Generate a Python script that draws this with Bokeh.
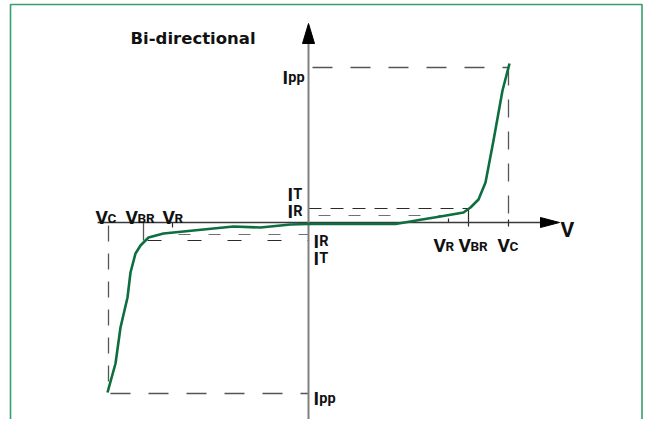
from bokeh.plotting import figure
from bokeh.models import Range1d
from bokeh.core.properties import value
from bokeh.embed import file_html
from bokeh.resources import INLINE

# ---- characteristic levels (schematic units) ----
V_R_POS, V_BR_POS, V_C_POS = 140, 160, 200
V_R_NEG, V_BR_NEG, V_C_NEG = -136, -165, -200
I_PP_POS, I_T_POS, I_R_POS = 155, 14, 7
I_PP_NEG, I_T_NEG, I_R_NEG = -171, -18, -12

# ---- I-V curve of the bi-directional device ----
v_curve = [-201, -193, -188, -181, -178, -173, -168, -160, -145, -125, -75, -48, -18,
           0, 87, 105, 112, 132, 155, 162, 170, 177, 185, 194, 201]
i_curve = [-170, -141, -105, -75, -50, -31, -23, -15, -11, -9, -4, -5, -2,
           -1.5, -1.5, 1.5, 2.7, 6, 10, 15, 23, 40, 82, 132, 159]

# ---- labels ----
title_text = "Bi-directional"
v_labels_neg = [("V", "C"), ("V", "BR"), ("V", "R")]
v_labels_pos = [("V", "R"), ("V", "BR"), ("V", "C")]
i_labels_pos = [("I", "T"), ("I", "R"), ("I", "pp")]
i_labels_neg = [("I", "R"), ("I", "T"), ("I", "pp")]
axis_label = "V"

FONT = "Roboto"
GREEN = "#0d6e3f"
BORDER = "#34a06d"
DARK = "#2a2a2a"
GRAY = "#707070"

p = figure(width=643, height=419, output_backend="svg", toolbar_location=None,
           x_range=Range1d(-308, 335), y_range=Range1d(-197, 222),
           min_border=0, x_axis_location=None, y_axis_location=None,
           outline_line_color=None, background_fill_color="white",
           border_fill_color="white")
p.grid.grid_line_color = None

# frame border (green)
p.line(x=[-298, -298, 333.5, 333.5], y=[-197, 218, 218, -197],
       line_color=BORDER, line_width=1.6)

# ---- dashed guide lines ----
# Ipp levels
p.line(x=[0, V_C_POS], y=[I_PP_POS, I_PP_POS], line_color="#555555", line_width=1.3,
       line_dash="20 18", line_dash_offset=-4)
p.line(x=[V_C_NEG, 0], y=[I_PP_NEG, I_PP_NEG], line_color="#555555", line_width=1.3,
       line_dash="20 18", line_dash_offset=-2)
# Vc verticals
p.line(x=[V_C_POS, V_C_POS], y=[I_PP_POS, 3], line_color="#555555", line_width=1.3,
       line_dash="18 14")
p.line(x=[V_C_NEG, V_C_NEG], y=[-3, I_PP_NEG], line_color="#555555", line_width=1.3,
       line_dash="16 12")
# IT / IR levels, positive side
p.line(x=[0, V_BR_POS], y=[I_T_POS, I_T_POS], line_color=DARK, line_width=1.2,
       line_dash="13 9")
p.line(x=[0, V_R_POS], y=[I_R_POS, I_R_POS], line_color=GRAY, line_width=1.2,
       line_dash="12 18", line_dash_offset=-10)
# IT / IR levels, negative side
p.line(x=[V_BR_NEG, 0], y=[I_T_NEG, I_T_NEG], line_color=DARK, line_width=1.2,
       line_dash="14 26", line_dash_offset=-4)
p.line(x=[V_R_NEG, 0], y=[I_R_NEG, I_R_NEG], line_color=GRAY, line_width=1.2,
       line_dash="12 18", line_dash_offset=-6)

# VBR / VR / VC markers on the V axis
p.line(x=[V_BR_POS, V_BR_POS], y=[I_T_POS, -4], line_color=DARK, line_width=1.2)
p.line(x=[V_R_POS, V_R_POS], y=[4, 0], line_color=DARK, line_width=1.2)
p.line(x=[V_C_POS, V_C_POS], y=[3, -4], line_color=DARK, line_width=1.2)
p.line(x=[V_BR_NEG, V_BR_NEG], y=[0, I_T_NEG], line_color="#555555", line_width=1.3)
p.line(x=[V_R_NEG, V_R_NEG], y=[0, -5], line_color=DARK, line_width=1.2)

# ---- axes ----
p.line(x=[-211, 236], y=[0, 0], line_color="#3a3a3a", line_width=1.4)
p.patch(x=[232, 232, 251], y=[5, -5, 0], fill_color="black", line_color="black")
p.line(x=[0, 0], y=[-205, 182], line_color="#808080", line_width=2)
p.patch(x=[-6, 6, 0], y=[179, 179, 199], fill_color="black", line_color="black")

# ---- curve ----
p.line(x=v_curve, y=i_curve, line_color=GREEN, line_width=2.6, line_join="round")

# ---- texts ----
def label(x, y, main, sub, main_size, sub_size, sub_dx):
    p.text(x=[x], y=[y], text=[main], text_font=value(FONT), text_font_style="bold",
           text_font_size=f"{main_size}px", text_baseline="alphabetic",
           text_align="left", text_color="#111111")
    p.text(x=[x], y=[y], text=[sub], x_offset=sub_dx, text_font=value(FONT),
           text_font_style="bold", text_font_size=f"{sub_size}px",
           text_baseline="alphabetic", text_align="left", text_color="#111111")

for (m, s), xl in zip(v_labels_neg, [-213, -183, -146]):
    label(xl, 5, m, s, 19, 13.5, 12)
for (m, s), xl in zip(v_labels_pos, [125, 150, 189]):
    label(xl, -23, m, s, 19, 13.5, 12)
for (m, s), (xl, yl) in zip(i_labels_pos, [(-21, 28), (-21, 11), (-26, 145)]):
    label(xl, yl, m, s, 19, 14.5, 5.8)
for (m, s), (xl, yl) in zip(i_labels_neg, [(5, -19), (5, -36), (5, -176)]):
    label(xl, yl, m, s, 19, 14.5, 5.8)

p.text(x=[252], y=[-7], text=[axis_label], text_font=value(FONT), text_font_style="bold",
       text_font_size="21px", text_baseline="alphabetic", text_align="left",
       text_color="#111111")
p.text(x=[-178], y=[184], text=[title_text], text_font=value("DejaVu Sans"),
       text_font_style="bold", text_font_size="16.5px", text_baseline="alphabetic",
       text_align="left", text_color="#111111")

open("out.html", "w").write(file_html(p, INLINE))
